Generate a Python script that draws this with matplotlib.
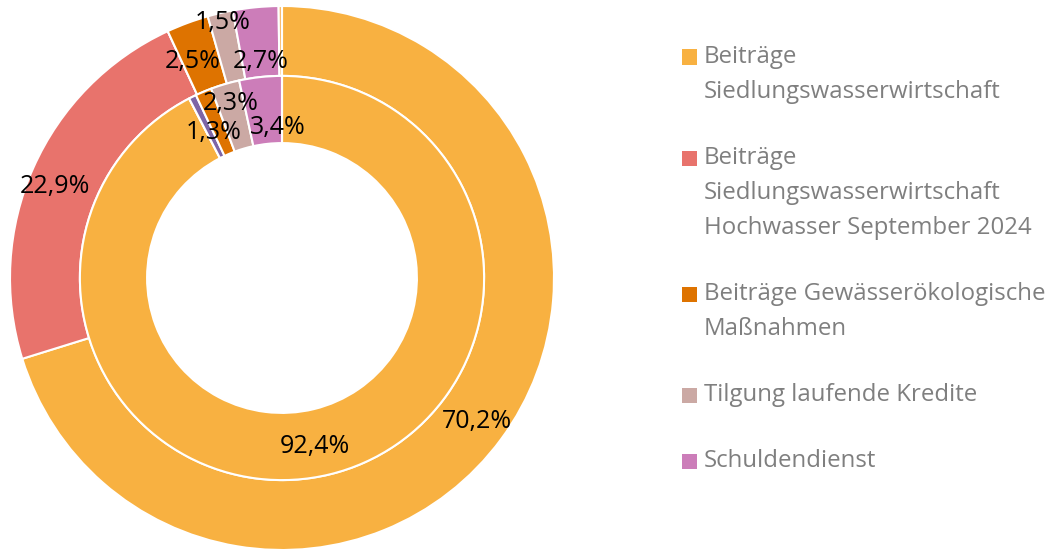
import matplotlib.pyplot as plt
from matplotlib.patches import Rectangle
import numpy as np

plt.rcParams["font.family"] = ["Open Sans", "DejaVu Sans"]

# slice order (clockwise from 12 o'clock)
SLICE_COLORS = ["#F8B141", "#E8736C", "#7E65A6", "#DE7300", "#CBA9A4", "#CC7DB9", "#F6BA6A"]
outer_values = [70.2, 22.9, 0.0, 2.5, 1.5, 2.7, 0.2]
inner_values = [92.4, 0.0, 0.6, 1.3, 2.3, 3.4, 0.0]

legend_labels = [
    "Beiträge\nSiedlungswasserwirtschaft",
    "Beiträge\nSiedlungswasserwirtschaft\nHochwasser September 2024",
    "Beiträge Gewässerökologische\nMaßnahmen",
    "Tilgung laufende Kredite",
    "Schuldendienst",
]
legend_colors = ["#F8B141", "#E8736C", "#DE7300", "#CBA9A4", "#CC7DB9"]

# label placement: radius and angle nudge (Excel staggers the small ones)
outer_label_r = [0.89, 0.90, None, 0.86, 0.965, 0.80, None]
outer_label_da = [0, 2, 0, 2, 0, 0, 0]
inner_label_r = [0.63, None, None, 0.59, 0.67, 0.555, None]
inner_label_da = [-2.5, 0, 0, 2.5, 0, -4.5, 0]

W, H = 1054, 551


def draw_ring(ax, values, radius, width, label_r, label_da):
    wedges, _ = ax.pie(
        values,
        radius=radius,
        colors=SLICE_COLORS,
        startangle=90,
        counterclock=False,
        wedgeprops=dict(width=width, edgecolor="white", linewidth=1.5),
    )
    for w, v, r, da in zip(wedges, values, label_r, label_da):
        if r is None or v == 0:
            continue
        ang = np.deg2rad((w.theta1 + w.theta2) / 2 + da)
        ax.text(r * np.cos(ang), r * np.sin(ang), f"{v:.1f}%".replace(".", ","),
                ha="center", va="center", fontsize=18, color="black")


def main() -> None:
    fig = plt.figure(figsize=(W / 100, H / 100), dpi=100)
    ax = fig.add_axes([10 / W, 1 / H, 544 / W, 544 / H])

    draw_ring(ax, outer_values, 1.0, 0.257, outer_label_r, outer_label_da)
    draw_ring(ax, inner_values, 0.743, 0.247, inner_label_r, inner_label_da)
    ax.set_xlim(-1, 1)
    ax.set_ylim(-1, 1)
    ax.set_aspect("equal")
    ax.axis("off")

    # legend, square aligned with the first line like in Excel
    line_h = 35
    gap = 31
    y = 57
    for label, color in zip(legend_labels, legend_colors):
        fig.patches.append(Rectangle((682 / W, 1 - (y + 7.5) / H), 15 / W, 15 / H,
                                     transform=fig.transFigure, facecolor=color,
                                     edgecolor="none"))
        lines = label.split("\n")
        for i, line in enumerate(lines):
            fig.text(704 / W, 1 - (y + i * line_h) / H, line, ha="left",
                     va="center", fontsize=17.3, color="#7F7F7F")
        y += len(lines) * line_h + gap

    plt.savefig("out.png", dpi=100)
    plt.close()


if __name__ == "__main__":
    main()
